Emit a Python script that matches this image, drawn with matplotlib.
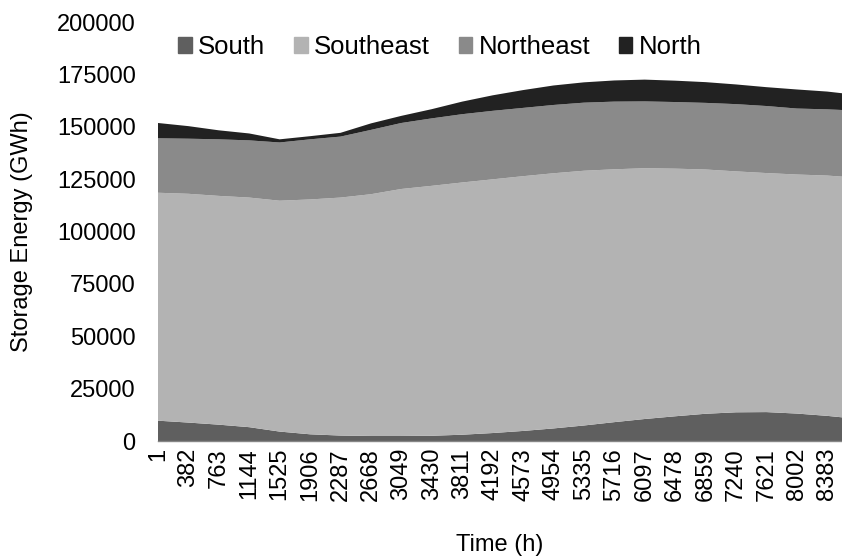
import matplotlib
matplotlib.use("Agg")
import matplotlib.pyplot as plt
import matplotlib.patches as mpatches

plt.rcParams["font.family"] = ["Liberation Sans", "DejaVu Sans"]

# ── Data ─────────────────────────────────────────────────────────
hours = [1, 382, 763, 1144, 1525, 1906, 2287, 2668, 3049, 3430, 3811, 4192,
         4573, 4954, 5335, 5716, 6097, 6478, 6859, 7240, 7621, 8002, 8383, 8568]
south = [9700, 8800, 7800, 6600, 4500, 3200, 2600, 2400, 2400, 2500, 3000, 3800,
         4800, 6000, 7400, 9000, 10500, 11800, 13000, 13700, 13800, 13100, 12000, 11300]
southeast = [108800, 109200, 109200, 109600, 110200, 112100, 113600, 115400, 117900,
             119300, 120400, 121100, 121600, 121800, 121600, 120700, 119700, 118200,
             116600, 115000, 114100, 114100, 114700, 114900]
northeast = [26000, 26300, 27000, 27300, 27800, 28700, 29100, 30700, 31500, 32200,
             32600, 32700, 32600, 32600, 32500, 32300, 31900, 31800, 31800, 32100,
             32000, 31500, 31600, 31800]
north = [7300, 6000, 4300, 3300, 1500, 1500, 1800, 3100, 3400, 4400, 6000, 7400,
         8500, 9300, 9700, 10100, 10400, 10200, 9900, 9400, 9000, 9100, 8500, 8000]

series_names = ["South", "Southeast", "Northeast", "North"]
xtick_labels = [str(1 + 381 * i) for i in range(23)]
yticks = [0, 25000, 50000, 75000, 100000, 125000, 150000, 175000, 200000]

COLORS = ["#5f5f5f", "#b3b3b3", "#8a8a8a", "#222222"]

fig = plt.figure(figsize=(8.42, 5.6), dpi=100)
ax = fig.add_axes([0.1876, 0.2125, 0.8124, 0.7482])

ax.stackplot(hours, south, southeast, northeast, north, colors=COLORS,
             linewidth=0)

ax.set_xlim(1, 8568)
ax.set_ylim(0, 200000)
ax.set_yticks(yticks)
ax.set_yticklabels([str(v) for v in yticks], fontsize=17)
ax.set_xticks([int(t) for t in xtick_labels])
ax.set_xticklabels(xtick_labels, rotation=90, fontsize=17)
ax.tick_params(axis="x", length=0, pad=5)
ax.tick_params(axis="y", length=0, pad=16)

for s in ["top", "right", "left"]:
    ax.spines[s].set_visible(False)
ax.spines["bottom"].set_color("#868686")
ax.spines["bottom"].set_linewidth(1.0)

ax.set_xlabel("Time (h)", fontsize=17)
ax.set_ylabel("Storage Energy (GWh)", fontsize=17)
ax.xaxis.set_label_coords(0.5, -0.222)
ax.yaxis.set_label_coords(-0.183, 0.5)

handles = [mpatches.Patch(color=c, label=n) for c, n in zip(COLORS, series_names)]
ax.legend(handles=handles, ncol=4, loc="center left", bbox_to_anchor=(0.03, 0.94),
          frameon=False, fontsize=18.5, handlelength=0.53, handleheight=0.53,
          handletextpad=0.24, columnspacing=1.12, borderaxespad=0, borderpad=0)

fig.savefig("out.png", dpi=100)
